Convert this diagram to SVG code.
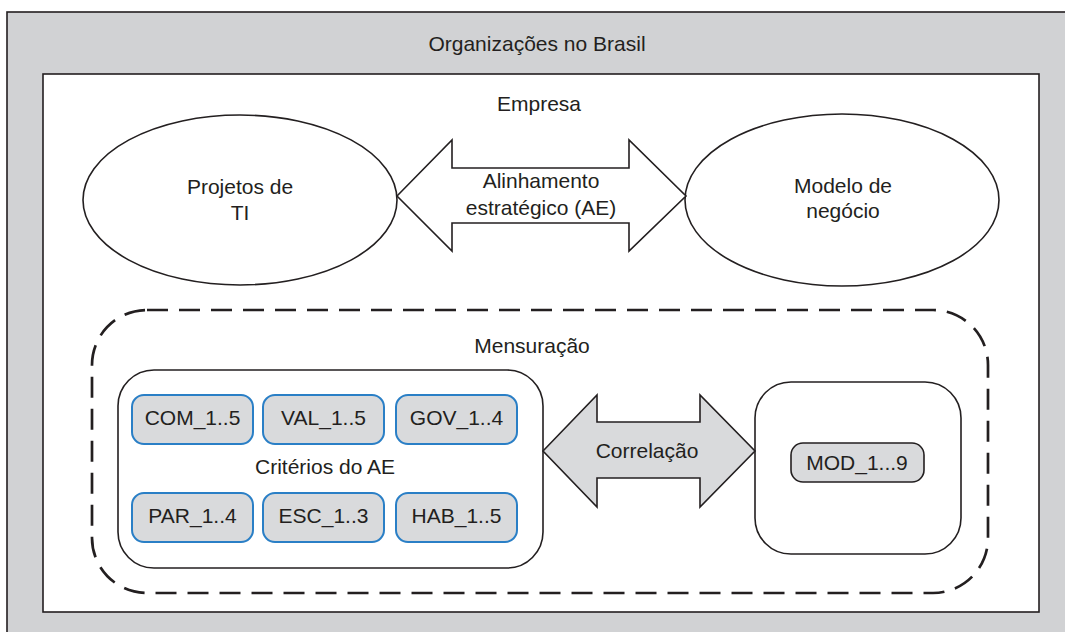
<svg xmlns="http://www.w3.org/2000/svg" width="1065" height="632" viewBox="0 0 1065 632">
<style>
text{font-family:"Liberation Sans",Arial,sans-serif;font-size:21px;fill:#231f20;text-anchor:middle}
.ln{stroke:#231f20;stroke-width:1.6}
.crit{fill:#d9dadc;stroke:#2a7fc6;stroke-width:2}
.mod{fill:#d9dadc;stroke:#231f20;stroke-width:1.6}
</style>
<rect id="brasil" x="7" y="12" width="1080" height="640" fill="#d1d2d4" class="ln" stroke-width="2"/>
<text x="537" y="51">Organizações no Brasil</text>
<g id="empresa">
<rect x="43" y="74" width="996" height="538" fill="#fff" class="ln" stroke-width="2"/>
<text x="539" y="111">Empresa</text>
</g>
<g id="projetos">
<ellipse cx="240" cy="200" rx="157" ry="85" fill="#fff" class="ln"/>
<text x="240" y="194">Projetos de</text>
<text x="240" y="220">TI</text>
</g>
<g id="modelo">
<ellipse cx="842" cy="200" rx="157" ry="86" fill="#fff" class="ln"/>
<text x="843" y="193">Modelo de</text>
<text x="843" y="218">negócio</text>
</g>
<g id="mensuracao">
<rect x="92" y="310" width="896" height="283" rx="55" ry="55" fill="none" stroke="#231f20" stroke-width="2.7" stroke-dasharray="21 11"/>
<text x="532" y="353">Mensuração</text>
</g>
<g id="criterios">
<rect x="118" y="370" width="425" height="198" rx="36" ry="36" fill="#fff" class="ln"/>
<text x="325" y="474">Critérios do AE</text>
</g>
<g id="com"><rect x="132" y="395" width="121" height="49" rx="12" class="crit"/><text x="192.5" y="425">COM_1..5</text></g>
<g id="val"><rect x="263" y="395" width="121" height="49" rx="12" class="crit"/><text x="323.5" y="425">VAL_1..5</text></g>
<g id="gov"><rect x="396" y="395" width="121" height="49" rx="12" class="crit"/><text x="456.5" y="425">GOV_1..4</text></g>
<g id="par"><rect x="132" y="493" width="121" height="49" rx="12" class="crit"/><text x="192.5" y="523">PAR_1..4</text></g>
<g id="esc"><rect x="263" y="493" width="121" height="49" rx="12" class="crit"/><text x="323.5" y="523">ESC_1..3</text></g>
<g id="hab"><rect x="396" y="493" width="121" height="49" rx="12" class="crit"/><text x="456.5" y="523">HAB_1..5</text></g>
<g id="modbox">
<rect x="755" y="382" width="206" height="172" rx="36" ry="36" fill="#fff" class="ln"/>
<rect x="791" y="443" width="133" height="39" rx="12" class="mod"/>
<text x="857" y="470">MOD_1...9</text>
</g>
<g id="connectors">
<polygon points="397,196 452,140 452,168 629,168 629,140 686,196 629,251 629,223 452,223 452,251" fill="#fff" class="ln"/>
<text x="541" y="188">Alinhamento</text>
<text x="541" y="215">estratégico (AE)</text>
<polygon points="543,451 597,395 597,422 700,422 700,395 755,451 700,507 700,478 597,478 597,507" fill="#d9dadc" class="ln"/>
<text x="647" y="458">Correlação</text>
</g>
</svg>
